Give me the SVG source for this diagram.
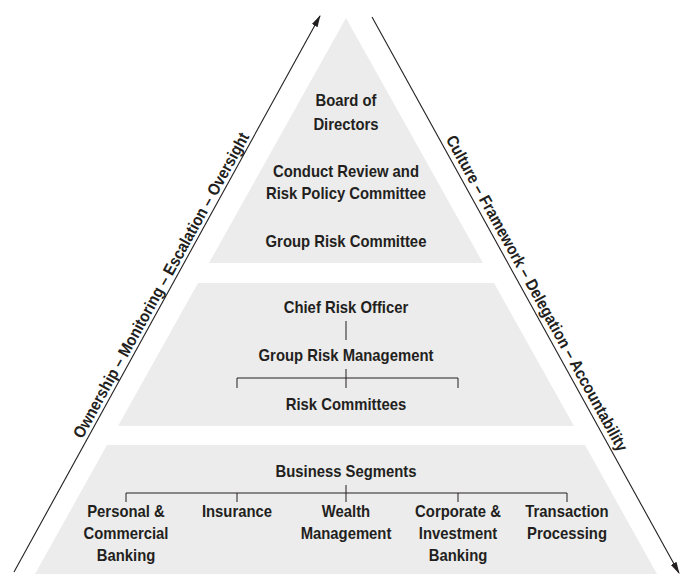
<svg xmlns="http://www.w3.org/2000/svg" width="681" height="574" viewBox="0 0 681 574">
  <style>
    .band { fill: #ececec; }
    .lbl { font-family: "Liberation Sans", Arial, sans-serif; font-weight: bold; font-size: 16.5px; fill: #231f20; text-anchor: middle; }
    .link { stroke: #231f20; stroke-width: 1; fill: none; }
    .flow { stroke: #231f20; stroke-width: 1.1; fill: none; }
  </style>
  <defs>
    <marker id="head" markerWidth="12" markerHeight="8" refX="11" refY="4" orient="auto" markerUnits="userSpaceOnUse">
      <path d="M0,0.8 L12,4 L0,7.2 Z" fill="#231f20"/>
    </marker>
  </defs>

  <rect width="681" height="574" fill="#ffffff"/>

  <!-- pyramid tiers; labels are set in a condensed cut (x scaled by 0.9) -->
  <g id="tier-board">
    <polygon class="band" points="346,18 483,263 209,263"/>
    <g transform="scale(0.9,1)">
      <text class="lbl" x="384.44" y="106">Board of</text>
      <text class="lbl" x="384.44" y="130">Directors</text>
      <text class="lbl" x="384.44" y="177">Conduct Review and</text>
      <text class="lbl" x="384.44" y="199">Risk Policy Committee</text>
      <text class="lbl" x="384.44" y="247">Group Risk Committee</text>
    </g>
  </g>

  <g id="tier-risk">
    <polygon class="band" points="198,283 494,283 574,426 118,426"/>
    <g transform="scale(0.9,1)">
      <text class="lbl" x="384.44" y="313">Chief Risk Officer</text>
      <text class="lbl" x="384.44" y="361">Group Risk Management</text>
      <text class="lbl" x="384.44" y="410">Risk Committees</text>
    </g>
  </g>

  <g id="tier-business">
    <polygon class="band" points="107,445 585,445 657,574 35,574"/>
    <g transform="scale(0.9,1)">
      <text class="lbl" x="384.44" y="477">Business Segments</text>
      <g id="seg-pcb">
        <text class="lbl" x="140" y="517">Personal &amp;</text>
        <text class="lbl" x="140" y="539">Commercial</text>
        <text class="lbl" x="140" y="561">Banking</text>
      </g>
      <g id="seg-ins">
        <text class="lbl" x="263.33" y="517">Insurance</text>
      </g>
      <g id="seg-wm">
        <text class="lbl" x="384.44" y="517">Wealth</text>
        <text class="lbl" x="384.44" y="539">Management</text>
      </g>
      <g id="seg-cib">
        <text class="lbl" x="508.89" y="517">Corporate &amp;</text>
        <text class="lbl" x="508.89" y="539">Investment</text>
        <text class="lbl" x="508.89" y="561">Banking</text>
      </g>
      <g id="seg-tp">
        <text class="lbl" x="630" y="517">Transaction</text>
        <text class="lbl" x="630" y="539">Processing</text>
      </g>
    </g>
  </g>

  <!-- connectors -->
  <g id="connectors">
    <path class="link" d="M346,321 V340"/>
    <path class="link" d="M346,369 V388 M237,388 V378 H458 V388"/>
    <path class="link" d="M346,485 V502 M126,502 V493 H567 V502 M237,493 V502 M458,493 V502"/>
    <line class="flow" x1="14" y1="572" x2="320" y2="16" marker-end="url(#head)"/>
    <line class="flow" x1="372" y1="17" x2="679" y2="573" marker-end="url(#head)"/>
  </g>

  <!-- side labels along the two flow lines -->
  <g id="label-left">
    <text class="lbl" transform="translate(166,288) rotate(-61.1) scale(0.9,1)">Ownership – Monitoring – Escalation – Oversight</text>
  </g>
  <g id="label-right">
    <text class="lbl" transform="translate(532,296) rotate(61.1) scale(0.9,1)">Culture – Framework – Delegation – Accountability</text>
  </g>
</svg>
